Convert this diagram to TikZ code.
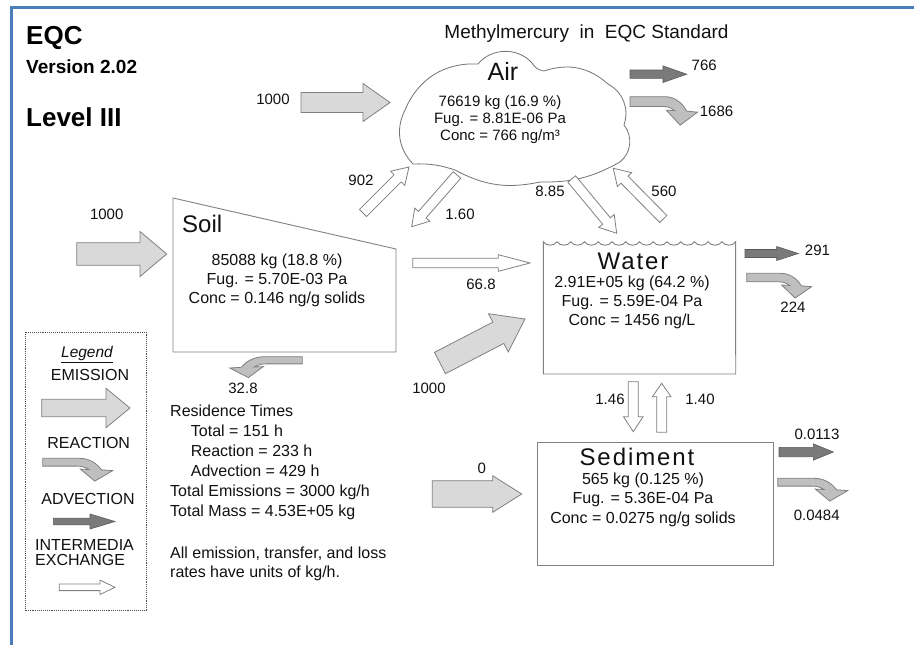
\documentclass[tikz,border=0pt]{standalone}
\usepackage{fontspec}
\setmainfont{Liberation Sans}
\usetikzlibrary{calc}
\definecolor{frameblue}{HTML}{4A7EBB}
\definecolor{emifill}{HTML}{D9D9D9}
\definecolor{reafill}{HTML}{BFBFBF}
\definecolor{advfill}{HTML}{7A7A7A}
\definecolor{edgegray}{HTML}{808080}
\definecolor{txtcol}{HTML}{111111}

\tikzset{
  emi/.style={draw=edgegray, fill=emifill, line width=0.8pt, line join=miter},
  rea/.style={draw=edgegray, fill=reafill, line width=0.8pt},
  adv/.style={draw=edgegray!70!black, fill=advfill, line width=0.6pt},
  xch/.style={draw=edgegray, fill=white, line width=0.8pt},
  boxline/.style={draw=edgegray, line width=0.9pt},
  lbl/.style={inner sep=0pt, text=txtcol, font=\fontsize{15}{18}\selectfont},
  body/.style={inner sep=0pt, anchor=base, text=txtcol, font=\fontsize{16}{19}\selectfont},
  bodyl/.style={inner sep=0pt, anchor=base west, text=txtcol, font=\fontsize{16}{19}\selectfont},
}

% block arrow: style, tail, tip, shaft half width, head half width, head length
\newcommand{\blockarr}[6]{%
  \coordinate (ab) at ($(#3)!#6!(#2)$);
  \draw[#1] ($(#2)!#4!90:(#3)$) -- ($(ab)!#4!-90:(#2)$) -- ($(ab)!#5!-90:(#2)$) -- (#3)
    -- ($(ab)!#5!90:(#2)$) -- ($(ab)!#4!90:(#2)$) -- ($(#2)!#4!-90:(#3)$) -- cycle;
}
% bent reaction arrow: origin coordinate, xscale, yscale
\newcommand{\reaarr}[3]{%
  \begin{scope}[shift={(#1)}, xscale=#2, yscale=#3]
    \draw[rea] (0,0) -- (26,0) .. controls (32,0) and (38,3) .. (42,9.6) -- (50,10.3)
      -- (37.2,19) -- (26.9,9) -- (33,9.3) .. controls (30,7.2) and (28,6.5) .. (24,6.5)
      -- (0,6.5) -- cycle;
  \end{scope}}

\begin{document}
\begin{tikzpicture}[x=1pt, y=-1pt]
\useasboundingbox (0,0) rectangle (914,645);
\fill[white] (0,0) rectangle (914,645);

% window frame
\draw[frameblue, line width=2.6pt] (11.5,645) -- (11.5,7.5) -- (914,7.5);

% titles
\node[inner sep=0pt, anchor=base west, font=\fontsize{26}{30}\selectfont\bfseries] (eqc) at (26,45) {EQC};
\node[inner sep=0pt, anchor=base west, font=\fontsize{19}{22}\selectfont\bfseries] (ver) at (26,73) {Version 2.02};
\node[inner sep=0pt, anchor=base west, font=\fontsize{26}{30}\selectfont\bfseries] (lvl) at (26,126) {Level III};
\node[inner sep=0pt, anchor=base, text=txtcol, font=\fontsize{19}{22}\selectfont] (ttl) at (586.5,38) {Methylmercury\ \ in\ \ EQC Standard};

% ---------- Air cloud ----------
\draw[draw=edgegray!90!black, line width=0.8pt, fill=white]
  (405,110) to[bend left=35] (478,64) to[bend left=50] (532,63) to[bend right=25] (544,71)
  to[bend left=30] (608,84) to[bend left=40] (624,125) to[bend left=45] (620,162)
  to[bend left=15] (540,182) to[bend left=20] (455,170) to[bend right=10] (413,164)
  to[bend left=35] (405,110) -- cycle;
\node[inner sep=0pt, anchor=base, text=txtcol, font=\fontsize{25}{28}\selectfont] (airT) at (503,80) {Air};
\node[inner sep=0pt, anchor=base, text=txtcol, font=\fontsize{15}{18}\selectfont] (air1) at (500,106.5) {76619 kg (16.9 \%)};
\node[inner sep=0pt, anchor=base, text=txtcol, font=\fontsize{15}{18}\selectfont] (air2) at (500,123.5) {Fug. = 8.81E-06 Pa};
\node[inner sep=0pt, anchor=base, text=txtcol, font=\fontsize{15}{18}\selectfont] (air3) at (500,140.5) {Conc = 766 ng/m³};

% ---------- Soil ----------
\draw[boxline] (173,198) -- (396,249) -- (396,352) -- (173,352) -- cycle;
\node[inner sep=0pt, anchor=base west, text=txtcol, font=\fontsize{24}{28}\selectfont] (soilT) at (182,232) {Soil};
\node[body] (soil1) at (277,265.5) {85088 kg (18.8 \%)};
\node[body] (soil2) at (277,284.5) {Fug. = 5.70E-03 Pa};
\node[body] (soil3) at (277,303.5) {Conc = 0.146 ng/g solids};

% ---------- Water ----------
\draw[boxline] (543.3,241.7) foreach \i in {1,...,14} { to[out=-60,in=-120] ++(13.74,0) }
  -- (735.7,374) -- (543.3,374) -- cycle;
\node[inner sep=0pt, anchor=base, text=txtcol, font=\fontsize{24}{28}\selectfont\addfontfeature{LetterSpace=8}] (watT) at (633,269.3) {Water};
\node[body] (wat1) at (632,287.5) {2.91E+05 kg (64.2 \%)};
\node[body] (wat2) at (632,306.5) {Fug. = 5.59E-04 Pa};
\node[body] (wat3) at (632,325.5) {Conc = 1456 ng/L};

% ---------- Sediment ----------
\draw[boxline] (537.3,442.3) rectangle (773.3,565.7);
\node[inner sep=0pt, anchor=base, text=txtcol, font=\fontsize{24}{28}\selectfont\addfontfeature{LetterSpace=8}] (sedT) at (637,465) {Sediment};
\node[body] (sed1) at (643,484) {565 kg (0.125 \%)};
\node[body] (sed2) at (643,503.5) {Fug. = 5.36E-04 Pa};
\node[body] (sed3) at (643,523) {Conc = 0.0275 ng/g solids};

% ---------- arrow end points ----------
\coordinate (aEt) at (301,102.5);   \coordinate (aEh) at (390,102.5);
\coordinate (sEt) at (76.7,254);    \coordinate (sEh) at (166.7,254);
\coordinate (wEt) at (440,363);     \coordinate (wEh) at (525,319);
\coordinate (dEt) at (432.3,494);   \coordinate (dEh) at (521.7,494);
\coordinate (lEt) at (41.7,408);    \coordinate (lEh) at (130,408);

\coordinate (aAt) at (630,74.2);    \coordinate (aAh) at (686.7,74.2);
\coordinate (wAt) at (745,253.5);   \coordinate (wAh) at (798.3,253.5);
\coordinate (dAt) at (779,452);     \coordinate (dAh) at (833.3,452);
\coordinate (lAt) at (53.3,521.5);  \coordinate (lAh) at (115,521.5);

\coordinate (saT) at (363,213);     \coordinate (saH) at (409,167);
\coordinate (asT) at (457,175);     \coordinate (asH) at (411.7,226.7);
\coordinate (awT) at (571.7,179);   \coordinate (awH) at (616.7,233.3);
\coordinate (waT) at (663.3,219);   \coordinate (waH) at (613.3,168.3);
\coordinate (swT) at (412.7,263);   \coordinate (swH) at (530,263);
\coordinate (wdT) at (633.3,381.7); \coordinate (wdH) at (633.3,431.7);
\coordinate (dwT) at (661.7,432.3); \coordinate (dwH) at (661.7,383.3);
\coordinate (lXt) at (59.3,587.3);  \coordinate (lXh) at (115,587.3);

\coordinate (aR) at (630,96.7);
\coordinate (wR) at (746.7,273.3);
\coordinate (dR) at (777.7,478.3);
\coordinate (sR) at (302.3,356.7);
\coordinate (lR) at (42.7,458.3);

% emission
\blockarr{emi}{aEt}{aEh}{10pt}{19pt}{27pt}
\blockarr{emi}{sEt}{sEh}{11.3pt}{22.5pt}{26.7pt}
\blockarr{emi}{wEt}{wEh}{12pt}{21.5pt}{30pt}
\blockarr{emi}{dEt}{dEh}{13.3pt}{18.3pt}{29pt}
\blockarr{emi}{lEt}{lEh}{8.7pt}{19.7pt}{24pt}
% advection
\blockarr{adv}{aAt}{aAh}{4.2pt}{8.3pt}{23.7pt}
\blockarr{adv}{wAt}{wAh}{4pt}{7pt}{21.6pt}
\blockarr{adv}{dAt}{dAh}{4.7pt}{8.2pt}{20pt}
\blockarr{adv}{lAt}{lAh}{3.4pt}{7.5pt}{25pt}
% intermedia exchange
\blockarr{xch}{saT}{saH}{5pt}{10pt}{16pt}
\blockarr{xch}{asT}{asH}{5pt}{10pt}{16pt}
\blockarr{xch}{awT}{awH}{5pt}{10pt}{16pt}
\blockarr{xch}{waT}{waH}{5pt}{10pt}{16pt}
\blockarr{xch}{swT}{swH}{4.7pt}{8.3pt}{31.7pt}
\blockarr{xch}{wdT}{wdH}{5pt}{9.8pt}{15pt}
\blockarr{xch}{dwT}{dwH}{5pt}{9.3pt}{13.4pt}
\blockarr{xch}{lXt}{lXh}{3.3pt}{7.2pt}{15pt}
% reaction
\reaarr{aR}{1.35}{1.5}
\reaarr{wR}{1.3}{1.3}
\reaarr{dR}{1.4}{1.2}
\reaarr{sR}{-1.45}{1.1}
\reaarr{lR}{1.4}{1.2}

% ---------- flow labels ----------
\node[lbl] (n1) at (273,99) {1000};
\node[lbl] (n2) at (704.2,65) {766};
\node[lbl] (n3) at (716.5,111.5) {1686};
\node[lbl] (n4) at (106.7,214) {1000};
\node[lbl] (n5) at (361,180) {902};
\node[lbl] (n6) at (460,214) {1.60};
\node[lbl] (n7) at (550,191) {8.85};
\node[lbl] (n8) at (664,191) {560};
\node[lbl] (n9) at (481,284) {66.8};
\node[lbl] (n10) at (817.5,250) {291};
\node[lbl] (n11) at (793,307) {224};
\node[lbl] (n12) at (243,388) {32.8};
\node[lbl] (n13) at (429,388) {1000};
\node[lbl] (n14) at (610,399) {1.46};
\node[lbl] (n15) at (700,399) {1.40};
\node[lbl] (n16) at (481.7,468) {0};
\node[lbl] (n17) at (817,434) {0.0113};
\node[lbl] (n18) at (816.7,515) {0.0484};

% ---------- residence times ----------
\node[bodyl] (r1) at (170,416) {Residence Times};
\node[bodyl] (r2) at (190.7,436.7) {Total = 151 h};
\node[bodyl] (r3) at (190.7,456) {Reaction = 233 h};
\node[bodyl] (r4) at (190.7,476) {Advection = 429 h};
\node[bodyl] (r5) at (170,496.7) {Total Emissions = 3000 kg/h};
\node[bodyl] (r6) at (170,516.7) {Total Mass = 4.53E+05 kg};
\node[bodyl] (r7) at (170,558.3) {All emission, transfer, and loss};
\node[bodyl] (r8) at (170,577.3) {rates have units of kg/h.};

% ---------- legend ----------
\draw[draw=black!70, densely dotted, line width=0.9pt] (25,332.3) rectangle (146.7,610.7);
\node[inner sep=0pt, anchor=base, text=txtcol, font=\fontsize{15.5}{18}\selectfont] (lg0) at (87,357.3) {\underline{\itshape Legend}};
\node[body] (lg1) at (90,380) {EMISSION};
\node[body] (lg2) at (88.7,448.3) {REACTION};
\node[body] (lg3) at (88,504) {ADVECTION};
\node[bodyl] (lg4) at (35,550.7) {INTERMEDIA};
\node[bodyl] (lg5) at (35,565) {EXCHANGE};
\end{tikzpicture}
\end{document}
